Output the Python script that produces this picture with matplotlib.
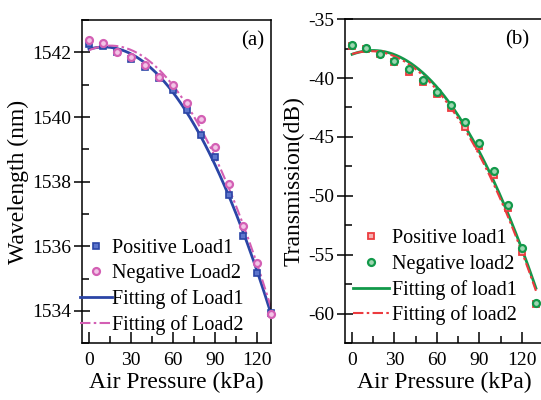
import numpy as np
import matplotlib
matplotlib.use("Agg")
import matplotlib.pyplot as plt
from matplotlib.ticker import MultipleLocator
from matplotlib.lines import Line2D

plt.rcParams['font.family'] = ['Liberation Serif', 'DejaVu Serif']
plt.rcParams['axes.unicode_minus'] = False

# Air pressure steps (kPa)
pressure = [0, 10, 20, 30, 40, 50, 60, 70, 80, 90, 100, 110, 120, 130]

# (a) resonance wavelength (nm)
wl_load1 = [1542.25, 1542.20, 1542.02, 1541.80, 1541.56, 1541.20, 1540.85,
            1540.21, 1539.43, 1538.77, 1537.60, 1536.31, 1535.18, 1533.95]
wl_load2 = [1542.37, 1542.28, 1542.00, 1541.85, 1541.60, 1541.25, 1540.99,
            1540.42, 1539.93, 1539.07, 1537.94, 1536.62, 1535.47, 1533.90]

# (b) transmission (dB)
tr_load1 = [-37.30, -37.50, -38.00, -38.60, -39.47, -40.30, -41.36,
            -42.57, -44.18, -45.76, -48.20, -51.04, -54.72, -59.20]
tr_load2 = [-37.20, -37.48, -37.99, -38.53, -39.27, -40.17, -41.20,
            -42.29, -43.70, -45.50, -47.90, -50.80, -54.38, -59.10]

x = np.array(pressure, dtype=float)
xf = np.linspace(0, 130, 300)

blue = '#2b45a6'
pink = '#d35fb4'
green = '#12994a'
red = '#ec3b3f'
DASHDOT = (0, (5, 1.6, 1.2, 1.6))

fig = plt.figure(figsize=(5.41, 4.0), dpi=100)
axa = fig.add_axes([0.1516, 0.1418, 0.349, 0.808])
axb = fig.add_axes([0.6377, 0.1418, 0.366, 0.8105])

TICK_FS = 14
LABEL_FS = 17
LEG_FS = 14.5


def style_axes(ax):
    for s in ax.spines.values():
        s.set_linewidth(1.1)
    ax.xaxis.set_major_locator(MultipleLocator(30))
    ax.xaxis.set_minor_locator(MultipleLocator(15))
    ax.tick_params(axis='x', which='major', direction='in', length=8, width=1.1,
                   labelsize=TICK_FS, pad=6, top=False)
    ax.tick_params(axis='x', which='minor', direction='in', length=5, width=1.1, top=False)
    ax.tick_params(axis='y', which='major', direction='inout', length=12, width=1.1,
                   labelsize=TICK_FS, pad=2, right=False)
    ax.tick_params(axis='y', which='minor', direction='in', length=5, width=1.1, right=False)


# ---- (a) wavelength ----
sq_a = dict(ls='none', marker='s', ms=4.5, mfc='#5d75cc', mec=blue, mew=1.2)
ci_a = dict(ls='none', marker='o', ms=5, mfc='#f2c4e6', mec=pink, mew=1.6)
pa1 = np.polyfit(x, wl_load1, 2)
pa2 = np.polyfit(x, wl_load2, 2)
axa.plot(xf, np.polyval(pa1, xf), color=blue, lw=2.0, zorder=2)
axa.plot(xf, np.polyval(pa2, xf), color=pink, lw=1.5, ls=DASHDOT, zorder=2)
axa.plot(x, wl_load1, clip_on=False, zorder=3, **sq_a)
axa.plot(x, wl_load2, clip_on=False, zorder=3, **ci_a)
axa.set_xlim(-5, 130)
axa.set_ylim(1533, 1543)
axa.yaxis.set_major_locator(MultipleLocator(2))
axa.yaxis.set_minor_locator(MultipleLocator(1))
style_axes(axa)
axa.set_xlabel('Air Pressure (kPa)', fontsize=LABEL_FS, labelpad=2)
axa.set_ylabel('Wavelength (nm)', fontsize=LABEL_FS, labelpad=2)
axa.text(0.965, 0.965, '(a)', transform=axa.transAxes, ha='right', va='top', fontsize=15)

handles_a = [
    Line2D([], [], **sq_a),
    Line2D([], [], **ci_a),
    Line2D([], [], color=blue, lw=2.0),
    Line2D([], [], color=pink, lw=1.5, ls=DASHDOT),
]
axa.legend(handles_a, ['Positive Load1', 'Negative Load2', 'Fitting of Load1', 'Fitting of Load2'],
           loc='lower left', bbox_to_anchor=(-0.055, 0.0), frameon=False, fontsize=LEG_FS,
           handlelength=1.6, handletextpad=0.0, labelspacing=0.3, borderaxespad=0.0)

# ---- (b) transmission ----
sq_b = dict(ls='none', marker='s', ms=4.5, mfc='#f7b0b0', mec=red, mew=1.3)
ci_b = dict(ls='none', marker='o', ms=5, mfc='#9ed6b0', mec=green, mew=1.6)
pb1 = np.polyfit(x, tr_load1, 2)
pb2 = np.polyfit(x, tr_load2, 2)
axb.plot(xf, np.polyval(pb2, xf), color=green, lw=2.0, zorder=2)
axb.plot(xf, np.polyval(pb1, xf), color=red, lw=1.5, ls=DASHDOT, zorder=2)
axb.plot(x, tr_load1, clip_on=False, zorder=3, **sq_b)
axb.plot(x, tr_load2, clip_on=False, zorder=4, **ci_b)
axb.set_xlim(-5, 135)
axb.set_ylim(-62.5, -35)
axb.yaxis.set_major_locator(MultipleLocator(5))
axb.yaxis.set_minor_locator(MultipleLocator(2.5))
style_axes(axb)
axb.set_xlabel('Air Pressure (kPa)', fontsize=LABEL_FS, labelpad=2)
axb.set_ylabel('Transmission(dB)', fontsize=LABEL_FS, labelpad=2)
axb.text(0.93, 0.965, '(b)', transform=axb.transAxes, ha='right', va='top', fontsize=15)

handles_b = [
    Line2D([], [], **sq_b),
    Line2D([], [], **ci_b),
    Line2D([], [], color=green, lw=2.0),
    Line2D([], [], color=red, lw=1.5, ls=DASHDOT),
]
axb.legend(handles_b, ['Positive load1', 'Negative load2', 'Fitting of load1', 'Fitting of load2'],
           loc='lower left', bbox_to_anchor=(-0.0, 0.03), frameon=False, fontsize=LEG_FS,
           handlelength=1.8, handletextpad=0.15, labelspacing=0.3, borderaxespad=0.0)

fig.savefig('out.png', dpi=100)
